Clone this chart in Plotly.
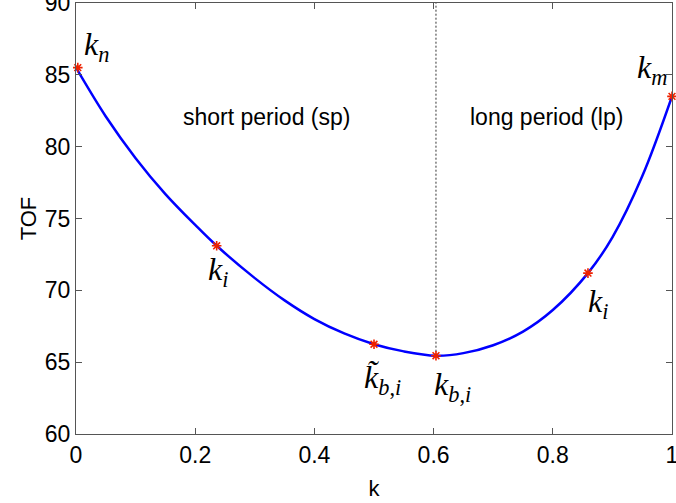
import plotly.graph_objects as go

# curve
k_curve = [0.0, 0.05, 0.1, 0.15, 0.2, 0.236, 0.3, 0.35, 0.4, 0.45, 0.5, 0.55,
           0.604, 0.65, 0.7, 0.75, 0.8, 0.859, 0.9, 0.95, 1.0]
tof_curve = [85.5, 82.1, 79.2, 76.7, 74.55, 73.1, 70.85, 69.3, 68.0, 67.0, 66.25, 65.75,
             65.45, 65.63, 66.18, 67.13, 68.63, 71.2, 73.69, 77.94, 83.5]

# marked points
k_pts = [0.003, 0.236, 0.5, 0.604, 0.859, 1.0]
tof_pts = [85.5, 73.1, 66.25, 65.45, 71.2, 83.5]

# dividing line
k_div = 0.604
tof_div = [65.45, 90]

# labels
lbl_text = ["<i>k</i><sub><i>n</i></sub>", "<i>k</i><sub><i>i</i></sub>",
            "<i>k̃</i><sub><i>b</i>,<i>i</i></sub>", "<i>k</i><sub><i>b</i>,<i>i</i></sub>",
            "<i>k</i><sub><i>i</i></sub>", "<i>k</i><sub><i>m</i></sub>"]
lbl_x = [0.035, 0.238, 0.515, 0.632, 0.876, 0.967]
lbl_y = [87.0, 71.3, 63.8, 63.3, 69.1, 85.4]

region_text = ["short period (sp)", "long period (lp)"]
region_x = [0.32, 0.789]
region_y = [82.07, 82.07]

xticks = [0, 0.2, 0.4, 0.6, 0.8, 1]
xticktext = ["0", "0.2", "0.4", "0.6", "0.8", "1"]
yticks = [60, 65, 70, 75, 80, 85, 90]

fig = go.Figure()
fig.add_trace(go.Scatter(x=[k_div, k_div], y=tof_div, mode="lines",
                         line=dict(color="#333333", width=1, dash="2px,2px"),
                         showlegend=False, hoverinfo="skip"))
fig.add_trace(go.Scatter(x=k_curve, y=tof_curve, mode="lines",
                         line=dict(color="#0000ff", width=2.5, shape="spline", smoothing=1),
                         showlegend=False))
fig.add_trace(go.Scatter(x=k_pts, y=tof_pts, mode="markers", cliponaxis=False,
                         marker=dict(symbol="asterisk-open", size=8, color="#ee2200",
                                     line=dict(color="#ee2200", width=1.6)),
                         showlegend=False))

for t, x, y in zip(lbl_text, lbl_x, lbl_y):
    fig.add_annotation(x=x, y=y, text=t, showarrow=False,
                       font=dict(family="Liberation Serif", size=32, color="black"))
for t, x, y in zip(region_text, region_x, region_y):
    fig.add_annotation(x=x, y=y, text=t, showarrow=False,
                       font=dict(family="Liberation Sans", size=23, color="black"))

axis_common = dict(showline=True, linecolor="#555555", linewidth=1, mirror="ticks",
                   ticks="inside", ticklen=6, tickcolor="#555555", showgrid=False,
                   zeroline=False, ticklabeloverflow="allow", automargin=False,
                   tickfont=dict(family="Liberation Sans", size=23, color="black"))
fig.update_xaxes(range=[0, 1], tickvals=xticks, ticktext=xticktext,
                 title=dict(text="k", font=dict(family="Liberation Sans", size=22, color="black"),
                            standoff=14),
                 ticklabelstandoff=0, **axis_common)
fig.update_yaxes(range=[60, 90], tickvals=yticks,
                 title=dict(text="TOF", font=dict(family="Liberation Sans", size=22, color="black"),
                            standoff=2),
                 ticklabelstandoff=0, **axis_common)

fig.update_layout(width=676, height=503, margin=dict(l=76, r=4, t=3, b=69),
                  plot_bgcolor="white", paper_bgcolor="white")

fig.write_html("out.html")
